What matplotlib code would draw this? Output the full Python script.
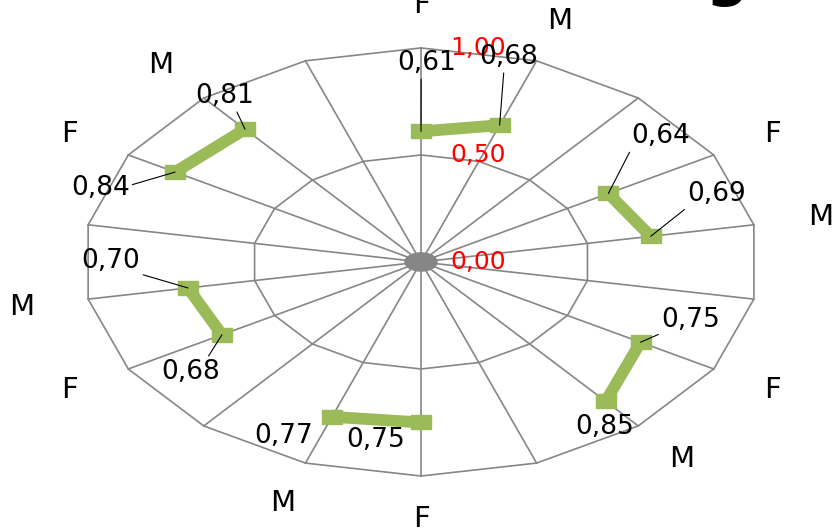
"""Radar chart (Excel style): F/M pairs per group, stretched into an ellipse."""

import numpy as np
import matplotlib

matplotlib.use("Agg")
import matplotlib.pyplot as plt
from matplotlib.patches import Ellipse

# 18 spokes: groups of F, M and an empty spoke
categories = ["F", "M", "", "F", "M", "", "F", "M", "", "F", "M", "", "F", "M", "", "F", "M", ""]
values = [0.61, 0.68, np.nan, 0.64, 0.69, np.nan, 0.75, 0.85, np.nan,
          0.75, 0.77, np.nan, 0.68, 0.70, np.nan, 0.84, 0.81, np.nan]
value_labels = ["0,61", "0,68", "", "0,64", "0,69", "", "0,75", "0,85", "",
                "0,75", "0,77", "", "0,68", "0,70", "", "0,84", "0,81", ""]
grid_levels = [0.0, 0.5, 1.0]
grid_labels = ["0,00", "0,50", "1,00"]

# label offsets from the marker, in pixels, and where a leader line leaves the label
label_dx = [6, 9, 0, 52, 66, 0, 50, -1, 0, -45, -48, 0, -31, -77, 0, -75, -20, 0]
label_dy = [68, 68, 0, 57, 42, 0, 22, -26, 0, -18, -19, 0, -37, 27, 0, -16, 33, 0]
leader_relpos = [(0.4, 0), (0.42, 0), None, (0, 0), (0, 0), None, (0, 0), None, None,
                 None, None, None, (0.77, 1), (1, 0), None, (1, 0.6), (0.68, 0), None]

GRID = "#868686"
GREEN = "#9BBB59"

n = len(categories)
theta = np.arange(n) * 2 * np.pi / n
sx, cy = np.sin(theta), np.cos(theta)

fig = plt.figure(figsize=(8.36, 5.28), dpi=100)
ax = fig.add_axes([0, 0, 1, 1])
ax.set_xlim(-1.2456, 1.2278)
ax.set_ylim(-1.243, 1.224)
ax.axis("off")

# polygon grid and spokes
for level in grid_levels[1:]:
    ax.plot(np.append(sx, sx[0]) * level, np.append(cy, cy[0]) * level,
            color=GRID, lw=1.2, zorder=1)
for i in range(n):
    ax.plot([0, sx[i]], [0, cy[i]], color=GRID, lw=1.2, zorder=1)
ax.add_patch(Ellipse((0, 0), 0.095, 0.085, color=GRID, zorder=2))

# axis values
for level, lbl in zip(grid_levels, grid_labels):
    ax.text(0.086, level, lbl, color="red", fontsize=18, ha="left", va="center", zorder=5)

# category labels
for i, cat in enumerate(categories):
    if cat:
        ax.text(1.2 * sx[i], 1.2 * cy[i], cat, fontsize=21, ha="center", va="center")

# data
vals = np.array(values)
x, y = vals * sx, vals * cy
ax.plot(x, y, color=GREEN, lw=8.5, solid_capstyle="butt", zorder=3)
rect = [(-1, -0.7), (1, -0.7), (1, 0.7), (-1, 0.7), (-1, -0.7)]
ax.plot(x, y, ls="none", marker=rect, ms=15, color=GREEN, zorder=4)

for i, lbl in enumerate(value_labels):
    if not lbl:
        continue
    arrow = None
    if leader_relpos[i] is not None:
        arrow = dict(arrowstyle="-", color="black", lw=0.8, shrinkA=0, shrinkB=0,
                     relpos=leader_relpos[i])
    ax.annotate(lbl, (x[i], y[i]), xytext=(label_dx[i], label_dy[i]),
                textcoords="offset pixels", fontsize=19, ha="center", va="center",
                arrowprops=arrow, zorder=5)

# title, mostly cut off above the figure
ax.text(0.905, 1.252, "g", fontsize=43, fontweight="bold", ha="center", va="baseline")

fig.savefig("out.png", dpi=100)
